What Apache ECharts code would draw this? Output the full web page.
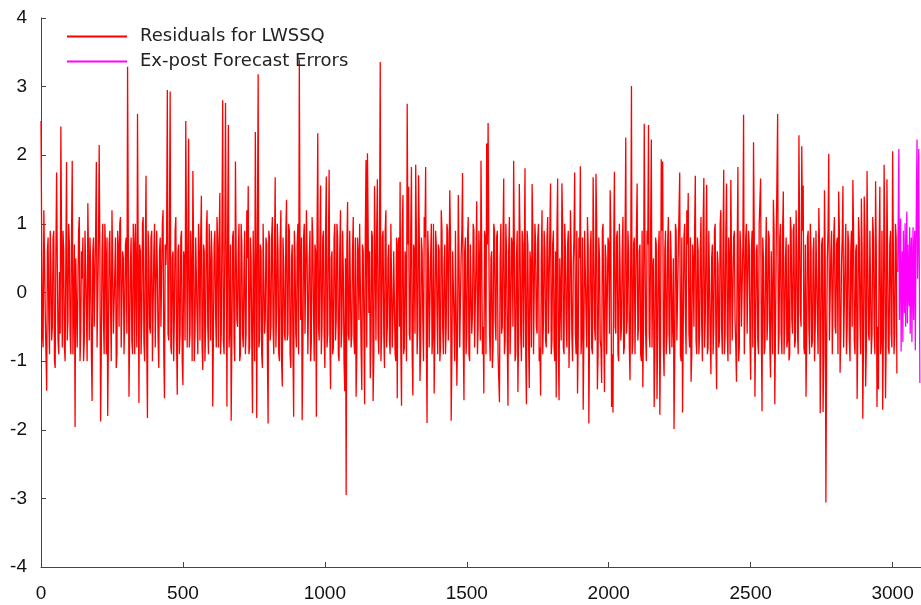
<!DOCTYPE html>
<html>
<head>
<meta charset="utf-8">
<script src="https://cdn.jsdelivr.net/npm/echarts@6/dist/echarts.min.js"></script>
<style>
  html, body { margin: 0; padding: 0; background: #fff; }
  #resid { width: 921px; height: 605px; }
</style>
</head>
<body>
<div id="resid"></div>
<script>
  var residStart = 0;
  var residStep = 5;
  var residuals = [
    2.5,-0.6,1.2,-0.3,-1.43,0.8,-0.9,0.4,-0.5,0.9,-1.1,1.75,-0.7,0.3,2.42,-0.8,0.6,-1.0,1.9,-0.4,
    0.7,-0.9,1.92,-0.2,-1.96,0.5,-0.8,1.1,-0.6,0.2,-1.0,0.9,-0.3,1.3,-0.7,0.4,-1.58,0.8,-0.5,1.9,
    -0.8,2.15,-1.88,0.6,-0.4,1.0,-0.9,-1.80,0.7,-0.2,1.2,-0.6,0.3,-1.1,0.9,-0.5,1.1,-0.8,0.5,-0.3,
    0.8,3.29,-1.52,0.4,-0.7,1.0,-0.9,0.2,2.6,-1.61,0.6,-0.4,1.1,-1.0,1.70,-1.83,0.5,-0.6,0.9,-0.2,
    1.0,-0.8,0.3,-1.1,0.8,-0.5,1.2,-1.54,0.4,2.95,-0.7,2.93,-0.9,0.6,-0.3,1.1,-1.49,0.7,-0.6,0.9,
    -1.35,0.5,2.5,-0.8,2.24,-0.6,0.3,1.77,-1.0,0.8,-0.4,1.0,-0.7,1.41,-1.13,0.6,-0.5,1.2,-0.9,0.4,
    0.9,-1.66,0.7,-0.3,1.1,-0.8,1.45,-0.6,2.8,-0.9,2.76,-1.66,2.44,-0.5,-1.87,0.8,-0.7,1.91,-0.4,0.6,
    -1.0,1.0,-0.6,0.3,-0.9,1.2,1.55,-0.8,0.5,-1.76,0.9,2.34,-1.83,3.18,-0.7,0.6,-1.1,1.0,-0.4,0.7,
    -1.91,0.8,-0.5,1.1,-0.9,1.68,-0.3,0.6,-1.0,1.2,-1.37,0.4,-0.7,1.35,-0.6,0.9,-1.1,0.7,-1.81,0.5,
    -0.8,1.0,3.39,-0.4,-1.86,0.8,-0.6,1.2,-0.9,0.5,-1.0,1.1,-0.3,0.7,-1.81,2.32,-0.7,1.56,-0.5,0.9,
    -1.1,1.69,-0.6,1.79,-1.41,0.6,-0.8,1.0,-0.4,0.8,-1.0,1.2,-0.5,0.3,-1.44,-2.95,1.32,-0.7,0.9,-0.6,
    1.1,-0.9,-1.52,0.8,-0.4,1.0,-1.42,0.6,-1.63,1.93,2.03,-0.3,-1.25,0.9,-1.58,1.55,-0.7,1.65,-0.9,3.36,
    -0.6,0.9,-1.1,1.2,-0.5,0.7,-0.9,1.0,-0.3,0.6,-1.0,-1.54,0.8,1.61,-1.65,1.42,-0.8,0.5,2.75,1.54,
    -0.7,1.83,-1.50,0.6,1.86,-0.9,1.71,-1.29,0.8,-0.4,1.1,1.83,-1.90,0.5,-0.8,1.0,-0.6,-1.47,0.9,-0.3,
    0.7,-1.0,1.2,-0.5,0.4,-0.9,1.0,-0.7,1.49,-1.87,0.6,-0.4,0.9,-1.36,1.42,-0.8,0.5,1.74,-1.57,0.8,
    -0.6,1.1,-1.0,0.7,-0.3,0.9,-0.8,1.33,-0.5,0.4,1.92,-0.9,-1.47,0.8,2.17,2.47,-0.6,0.5,-1.1,1.0,
    -0.4,0.8,-0.9,-1.60,1.0,-0.5,1.66,-0.7,0.6,-1.65,1.1,-0.3,0.7,1.92,-1.0,0.5,-1.45,1.58,-0.6,0.9,
    -0.8,1.81,-1.63,0.7,-1.39,0.4,1.58,-0.9,1.0,-0.5,0.8,-1.0,-1.50,1.2,-0.4,0.6,-0.8,1.1,-0.6,1.59,
    -0.7,0.9,-1.0,-1.53,1.66,-1.57,0.5,1.59,-0.8,1.0,-0.4,0.7,-1.1,1.2,-0.6,0.4,1.75,-0.9,-1.47,0.8,
    1.84,-0.6,-1.71,0.9,-0.3,1.1,-1.91,0.6,-0.8,1.68,-0.5,1.73,-1.41,0.8,-0.7,-1.32,1.0,-1.45,0.5,-0.9,
    0.7,1.49,-1.67,-1.75,1.76,-0.6,0.9,-1.0,0.4,-0.5,1.1,-0.8,2.26,-0.4,0.6,-1.28,3.01,-0.7,0.8,-0.9,
    1.59,-0.5,0.7,-1.0,-1.38,2.46,-0.6,0.9,2.44,-0.8,2.23,0.3,-1.67,0.8,-1.55,0.6,-1.78,1.94,1.91,-1.22,
    0.9,-0.6,1.1,-0.9,0.5,-0.4,-1.99,1.0,-0.7,0.6,1.75,-1.0,-1.75,0.8,-0.3,1.2,1.45,-0.8,-1.30,0.7,
    -0.5,1.70,-0.9,0.6,-0.6,1.1,-1.0,1.67,-0.4,1.57,-0.8,0.9,-1.19,0.7,-0.5,1.0,-1.41,0.4,-0.7,1.2,
    -0.9,1.79,-0.6,1.59,-1.0,0.5,1.64,-0.7,0.8,-0.4,-1.30,1.83,-0.8,0.6,-0.5,2.59,-0.9,1.0,-0.6,0.7,
    -1.27,0.9,2.19,-1.52,0.6,-0.7,1.0,1.66,-1.73,0.5,-0.8,1.1,-0.4,0.8,-1.24,0.6,1.35,-1.63,0.7,2.60,
    -0.6,1.0,-0.9,1.47,-0.5,0.8,-0.7,-0.99,1.1,-0.4,0.9,-0.8,1.2,-0.6,2.29,-0.3,2.13,1.56,-0.9,-1.52,
    0.8,-0.5,1.0,-0.8,0.6,-1.0,0.9,-0.4,1.23,-1.76,0.7,-1.74,1.49,-3.06,0.5,2.02,-0.7,0.9,-0.9,1.1,
    -0.6,0.8,1.47,-1.17,0.4,1.55,-0.8,1.0,-0.5,0.7,-1.0,0.9,1.64,-0.7,0.6,-1.55,1.1,-0.4,1.37,-1.84,
    1.40,-1.37,1.77,-0.6,0.9,-0.9,1.1,-0.5,1.62,-1.67,-1.41,1.54,-0.7,-1.71,1.86,-1.54,1.65,-0.8,0.7,-0.6,
    2.06,-0.9,1.0,-1.18
  ];
  // residuals in between, observations 2.5, 7.5, 12.5, ... (the dense core of the band)
  var residualsMid = [
    0.7,-0.8,0.5,-0.9,0.6,-0.4,0.9,-0.7,0.8,-1.0,0.6,0.4,-0.9,-0.6,0.7,0.9,-0.8,0.5,-0.7,1.0,
    -0.6,0.8,-0.9,0.7,0.5,-0.8,0.9,-1.0,0.6,0.8,-0.7,0.9,-1.0,0.5,0.8,-0.9,0.6,-0.5,0.9,-0.8,
    0.7,0.5,-0.8,1.0,-0.9,0.6,0.8,-0.7,0.9,-1.0,0.5,-0.6,0.8,-0.9,0.7,1.0,-0.8,0.6,-0.9,0.7,
    -0.6,0.9,-0.5,0.8,-0.9,0.7,1.0,-0.8,0.5,0.7,-0.9,1.0,-0.7,0.6,-0.8,0.9,-0.5,0.8,-1.0,0.6,
    -0.8,0.9,-0.7,0.6,-0.5,1.0,-0.9,0.7,0.8,-0.6,0.9,-0.8,0.5,-1.0,0.9,-0.7,0.6,-0.9,0.8,-1.0,
    0.6,-0.7,0.9,0.5,-0.8,0.9,-1.0,0.7,-0.6,0.8,-0.9,0.6,0.8,-0.8,0.7,-1.0,0.9,-0.5,1.0,-0.7,
    0.5,-0.6,0.9,-0.8,0.7,0.8,-0.9,1.0,-0.7,0.6,0.5,0.9,-0.8,0.7,-0.6,0.9,-1.0,0.6,-0.5,1.0,
    -0.9,0.7,-0.8,0.9,-0.6,0.5,-0.9,0.8,-0.7,0.9,-1.0,0.6,0.9,-0.8,0.7,-0.9,1.0,-0.6,0.8,-0.9,
    0.9,-0.7,0.8,-0.5,0.6,-0.8,1.0,-0.9,0.7,-1.0,0.8,-0.6,0.9,-0.7,1.0,-0.9,0.5,-0.8,0.9,-0.6,
    0.7,-0.9,0.6,0.8,-0.8,1.0,-0.6,0.5,-0.9,0.9,-0.7,0.8,-1.0,0.6,0.9,-0.5,0.7,-0.9,0.8,-0.6,
    0.9,-0.8,0.7,-0.6,0.5,-0.9,0.8,-0.7,1.0,-0.9,0.6,-0.8,0.9,-1.0,0.5,0.7,-0.6,0.9,-0.8,0.6,
    -0.7,0.8,-0.9,0.6,1.0,-0.8,0.7,-0.5,0.9,-0.8,0.9,0.6,-0.7,0.8,-0.9,0.5,0.9,-0.6,0.7,-1.0,
    0.8,-0.6,0.9,-0.8,0.5,-0.7,1.0,-0.8,0.6,-0.9,0.8,0.7,-0.5,-0.8,0.9,-0.9,0.6,-1.0,0.7,-0.6,
    0.9,-0.9,0.7,-0.6,0.8,-0.5,0.9,-0.8,0.6,-1.0,0.8,-0.7,0.9,-0.8,0.5,-0.9,1.0,-0.6,0.7,-0.9,
    0.6,-0.8,0.9,-0.9,0.7,-0.5,0.9,-0.7,0.8,-0.9,0.6,-1.0,0.9,-0.6,0.5,-0.8,0.9,-0.7,0.6,-0.9,
    0.8,-0.9,0.7,-0.6,1.0,-0.8,0.5,-0.9,0.9,-0.7,0.6,-0.5,0.9,-0.9,0.7,0.8,-1.0,0.6,-0.8,0.9,
    -0.7,0.9,-0.9,0.5,-0.6,0.8,-0.9,1.0,-0.7,0.6,-0.9,0.8,-0.5,0.7,-0.9,0.9,-0.6,0.8,-1.0,0.7,
    0.5,-0.9,0.9,-0.7,0.6,-0.8,0.9,-0.9,0.7,-0.6,1.0,-0.8,0.5,-0.9,0.9,-0.7,0.8,-0.6,0.9,-0.9,
    0.7,-0.8,0.6,0.9,-0.9,0.5,-0.7,1.0,-0.9,0.6,-0.8,0.9,-0.5,0.7,-1.0,0.8,-0.6,0.9,-0.7,0.5,
    -0.9,0.8,-0.6,0.9,-0.8,0.7,-0.5,0.9,-0.9,0.6,-0.7,1.0,-0.9,0.5,-0.8,0.9,-0.6,0.7,-0.9,0.8,
    -0.6,0.9,-0.9,0.7,-0.5,0.8,-0.9,1.0,-0.7,0.6,-0.9,0.8,-0.6,0.9,-0.8,0.5,-0.9,0.7,-0.9,0.9,
    -0.7,0.6,-0.9,0.9,-0.5,0.8,-1.0,0.7,-0.6,0.9,-0.8,0.5,-0.9,0.7,-0.6,0.9,-0.7,0.9,-0.8,0.6,
    -0.9,0.7,-0.6,0.9,-0.8,0.5,-0.9,0.9,-0.7,0.6,-0.9,0.8,-0.5,1.0,-0.9,0.7,-0.6,0.8,-0.9,0.5,
    0.9,-0.7,0.8,-0.9,0.6,-0.5,1.0,-0.8,0.7,-0.9,0.9,-0.6,0.5,-0.9,0.9,-0.7,0.6,-0.8,1.0,-0.5,
    0.7,-0.9,0.9,-0.6,0.8,-0.9,0.5,-0.7,0.9,-0.8,0.6,-1.0,0.9,-0.5,0.7,-0.9,0.8,-0.6,0.9,-0.7,
    0.6,-0.8,0.9,-0.5,0.7,-0.9,1.0,-0.6,0.8,-0.9,0.5,-0.7,0.9,-0.8,0.6,-0.9,0.9,-0.5,0.7,-0.9,
    0.8,-0.6,0.9,-0.9,0.5,-0.8,0.7,-0.9,0.9,-0.6,1.0,-0.7,0.6,-0.9,0.8,-0.5,0.9,-0.8,0.7,-0.6,
    0.9,-0.9,0.6,-0.7,0.8,-0.5,0.9,-0.9,0.7,-0.6,0.8,-0.9,0.5,-0.8,0.9,-0.7,0.6,-0.9,0.8,-0.5,
    0.7,-0.9,0.9,-0.6,0.8,-0.8,0.5,-0.9,0.9,-0.7,0.6,-0.5,0.9,-0.9,0.7,-0.6,0.8,-0.9,0.6,-0.7,
    0.9,-0.8,0.5,-0.7,0.9,-0.6,0.8,-0.9,0.6,-0.5,0.7,-0.9,0.9,-0.6,0.8,-0.7,0.5,-0.9,0.9,-0.8,
    0.7,-0.6,0.8
  ];

  // ex-post forecast errors, observations 3018, 3020, ...
  var fcStart = 3018;
  var fcStep = 2;
  var forecastErrors = [
    0.3,1.2,2.09,-0.4,0.6,1.08,-0.86,0.2,0.6,-0.72,0.9,0.1,-0.3,1.01,-0.5,0.4,1.18,-0.45,0.7,0.0,
    -0.2,0.95,-0.6,0.5,0.8,-0.72,0.3,0.95,-0.4,0.6,0.9,-0.84,0.4,1.5,2.23,0.2,0.8,2.09,0.5,-1.32
  ];

  var seriesNames = ['Residuals for LWSSQ', 'Ex-post Forecast Errors'];
  var seriesColors = ['#ff0000', '#ff00ff'];
  var xTicks = [0, 500, 1000, 1500, 2000, 2500, 3000];
  var yTicks = [-4, -3, -2, -1, 0, 1, 2, 3, 4];

  // merge the two residual arrays in time order
  var residData = [];
  for (var i = 0; i < residuals.length; i++) {
    residData.push([residStart + i * residStep, residuals[i]]);
    if (i < residualsMid.length && i < residuals.length - 1) {
      residData.push([residStart + i * residStep + residStep / 2, residualsMid[i]]);
    }
  }
  var fcData = [];
  for (var j = 0; j < forecastErrors.length; j++) {
    fcData.push([fcStart + j * fcStep, forecastErrors[j]]);
  }

  var tickFont = "'Liberation Sans', Arial, sans-serif";
  var legendLine = 'path://M0,0L60,0L60,2L0,2Z';

  var option = {
    backgroundColor: '#fff',
    animation: false,
    grid: {left: 41, top: 18, right: 0, bottom: 38},
    legend: {
      data: [
        {name: seriesNames[0], icon: legendLine, itemStyle: {color: seriesColors[0], borderColor: seriesColors[0], borderWidth: 0}},
        {name: seriesNames[1], icon: legendLine, itemStyle: {color: seriesColors[1], borderColor: seriesColors[1], borderWidth: 0}}
      ],
      orient: 'vertical',
      left: 62,
      top: 21,
      itemWidth: 60,
      itemHeight: 2,
      itemGap: 4,
      textStyle: {
        fontFamily: "'DejaVu Sans', sans-serif",
        fontSize: 18,
        color: '#222',
        padding: [0, 0, 0, 8],
        lineHeight: 21
      }
    },
    xAxis: {
      type: 'value',
      min: xTicks[0],
      max: 3100,
      interval: 500,
      splitLine: {show: false},
      axisLine: {onZero: false, lineStyle: {color: '#444', width: 1}},
      axisTick: {inside: true, length: 5, lineStyle: {color: '#444'}},
      axisLabel: {
        fontFamily: tickFont,
        fontSize: 19,
        color: '#111',
        margin: 17,
        showMaxLabel: false,
        formatter: function (v) { return String(v); }
      }
    },
    yAxis: {
      type: 'value',
      min: yTicks[0],
      max: yTicks[yTicks.length - 1],
      interval: 1,
      splitLine: {show: false},
      axisLine: {show: true, lineStyle: {color: '#444', width: 1}},
      axisTick: {show: true, inside: true, length: 5, lineStyle: {color: '#444'}},
      axisLabel: {
        fontFamily: tickFont,
        fontSize: 19,
        color: '#111',
        margin: 14
      }
    },
    series: [{
      name: seriesNames[0],
      type: 'line',
      showSymbol: false,
      symbol: 'none',
      itemStyle: {color: seriesColors[0]},
      lineStyle: {color: seriesColors[0], width: 1.3},
      data: residData
    }, {
      name: seriesNames[1],
      type: 'line',
      showSymbol: false,
      symbol: 'none',
      itemStyle: {color: seriesColors[1]},
      lineStyle: {color: seriesColors[1], width: 1.3},
      data: fcData
    }]
  };

  var chart = echarts.init(document.getElementById('resid'));
  chart.setOption(option);
</script>
</body>
</html>
